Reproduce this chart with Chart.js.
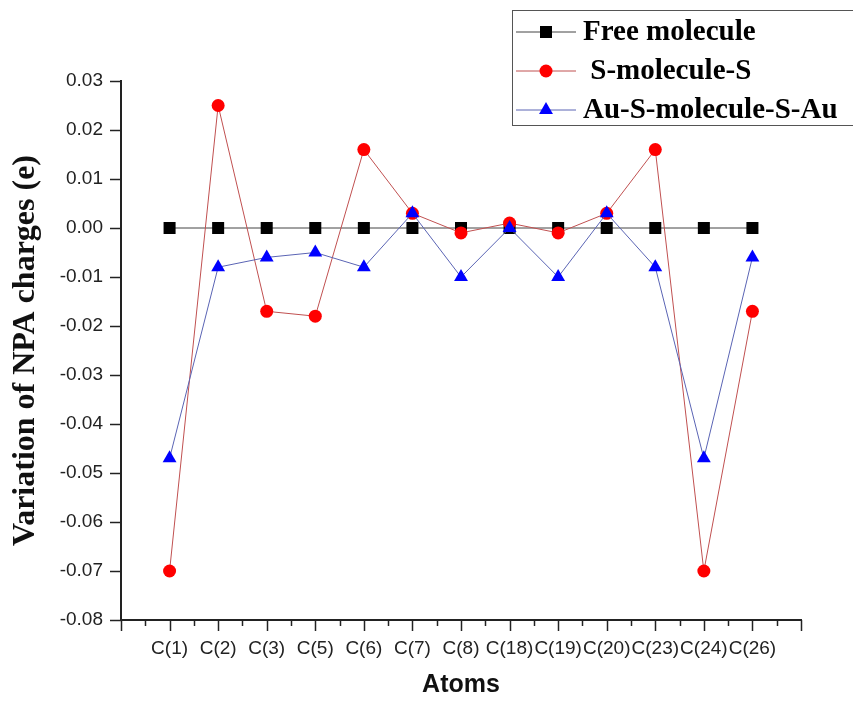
<!DOCTYPE html>
<html>
<head>
<meta charset="utf-8">
<script src="https://cdn.jsdelivr.net/npm/chart.js@4.4.1/dist/chart.umd.min.js"></script>
<style>
  body { margin: 0; background: #fff; }
  #wrap { width: 853px; height: 702px; }
</style>
</head>
<body>
<div id="wrap"><canvas id="npaChart" width="853" height="702"></canvas></div>
<script>
// Atoms along the x axis
const atoms = ['C(1)', 'C(2)', 'C(3)', 'C(5)', 'C(6)', 'C(7)', 'C(8)', 'C(18)', 'C(19)', 'C(20)', 'C(23)', 'C(24)', 'C(26)'];

// Variation of NPA charges (e)
const freeMolecule = [0, 0, 0, 0, 0, 0, 0, 0, 0, 0, 0, 0, 0];
const sMoleculeS = [-0.070, 0.025, -0.017, -0.018, 0.016, 0.003, -0.001, 0.001, -0.001, 0.003, 0.016, -0.070, -0.017];
const auSMoleculeSAu = [-0.047, -0.008, -0.006, -0.005, -0.008, 0.003, -0.010, 0.000, -0.010, 0.003, -0.008, -0.047, -0.006];

const seriesNames = ['Free molecule', ' S-molecule-S', 'Au-S-molecule-S-Au'];

// y axis range / ticks
const yMin = -0.08;
const yMax = 0.03;
const yStep = 0.005;

function toPoints(values) {
    return values.map((v, i) => ({ x: i, y: v }));
}

// Origin-style outward tick marks (long major, short minor)
const tickMarks = {
    id: 'tickMarks',
    afterDraw(chart) {
        const ctx = chart.ctx;
        const xs = chart.scales.x;
        const ys = chart.scales.y;
        const area = chart.chartArea;
        ctx.save();
        ctx.strokeStyle = '#222';
        ctx.lineWidth = 1.5;
        ys.ticks.forEach(t => {
            const y = Math.round(ys.getPixelForValue(t.value)) + 0.5;
            const len = t.label !== '' ? 11 : 5;
            ctx.beginPath();
            ctx.moveTo(area.left - len, y);
            ctx.lineTo(area.left, y);
            ctx.stroke();
        });
        xs.ticks.forEach(t => {
            const x = Math.round(xs.getPixelForValue(t.value)) + 0.5;
            const len = Number.isInteger(t.value) ? 11 : 6;
            ctx.beginPath();
            ctx.moveTo(x, area.bottom);
            ctx.lineTo(x, area.bottom + len);
            ctx.stroke();
        });
        ctx.restore();
    }
};

// Boxed legend in the top right corner
const boxLegend = {
    id: 'boxLegend',
    afterDraw(chart) {
        const ctx = chart.ctx;
        const rows = [32, 71, 110];
        ctx.save();
        ctx.strokeStyle = '#555';
        ctx.lineWidth = 1;
        ctx.strokeRect(512.5, 10.5, 400, 115);
        chart.data.datasets.forEach((ds, i) => {
            const y = rows[i];
            ctx.strokeStyle = ds.borderColor;
            ctx.lineWidth = 1;
            ctx.beginPath();
            ctx.moveTo(516, y);
            ctx.lineTo(576, y);
            ctx.stroke();
            ctx.fillStyle = ds.pointBackgroundColor;
            ctx.strokeStyle = ds.pointBackgroundColor;
            Chart.helpers.drawPoint(ctx, { pointStyle: ds.pointStyle, radius: ds.pointRadius, rotation: 0, borderWidth: 0 }, 546, y);
            ctx.fillStyle = '#000';
            ctx.font = 'bold 29px "Liberation Serif", "Times New Roman", serif';
            ctx.textBaseline = 'middle';
            ctx.textAlign = 'left';
            ctx.fillText(ds.label, 583, y + 1);
        });
        ctx.restore();
    }
};

const ctx = document.getElementById('npaChart').getContext('2d');
const npaChart = new Chart(ctx, {
    type: 'line',
    data: {
        datasets: [{
            label: seriesNames[0],
            data: toPoints(freeMolecule),
            borderColor: '#444',
            borderWidth: 1,
            pointStyle: 'rect',
            pointRadius: 8.5,
            pointBackgroundColor: '#000',
            pointBorderColor: '#000',
            pointBorderWidth: 0,
            order: 3
        }, {
            label: seriesNames[1],
            data: toPoints(sMoleculeS),
            borderColor: '#c05050',
            borderWidth: 1,
            pointStyle: 'circle',
            pointRadius: 6.5,
            pointBackgroundColor: '#ff0000',
            pointBorderColor: '#ff0000',
            pointBorderWidth: 0,
            order: 2
        }, {
            label: seriesNames[2],
            data: toPoints(auSMoleculeSAu),
            borderColor: '#5a64b4',
            borderWidth: 1,
            pointStyle: 'triangle',
            pointRadius: 8,
            pointBackgroundColor: '#0000ff',
            pointBorderColor: '#0000ff',
            pointBorderWidth: 0,
            order: 1
        }]
    },
    options: {
        responsive: false,
        animation: false,
        layout: {
            padding: { top: 81, right: 52, bottom: 0, left: 0 }
        },
        plugins: {
            legend: { display: false },
            tooltip: { enabled: false }
        },
        scales: {
            x: {
                type: 'linear',
                min: -1,
                max: atoms.length,
                grid: { display: false, drawTicks: false },
                border: { display: true, color: '#222', width: 2 },
                ticks: {
                    stepSize: 0.5,
                    autoSkip: false,
                    maxRotation: 0,
                    padding: 17,
                    color: '#222',
                    font: { family: 'Arial, "Liberation Sans", sans-serif', size: 19 },
                    callback: function(value) {
                        return Number.isInteger(value) && atoms[value] ? atoms[value] : '';
                    }
                },
                title: {
                    display: true,
                    text: 'Atoms',
                    color: '#111',
                    padding: 2,
                    font: { family: 'Arial, "Liberation Sans", sans-serif', size: 25, weight: 'bold' }
                },
                afterFit: function(scale) { scale.height = 82; }
            },
            y: {
                min: yMin,
                max: yMax,
                grid: { display: false, drawTicks: false },
                border: { display: true, color: '#222', width: 2 },
                ticks: {
                    stepSize: yStep,
                    padding: 18,
                    color: '#222',
                    font: { family: 'Arial, "Liberation Sans", sans-serif', size: 19 },
                    callback: function(value) {
                        return Math.abs(Math.round(value * 200)) % 2 === 0 ? value.toFixed(2) : '';
                    }
                },
                title: {
                    display: true,
                    text: 'Variation of NPA charges (e)',
                    color: '#111',
                    padding: { top: 7, bottom: 0 },
                    font: { family: '"Liberation Serif", "Times New Roman", serif', size: 32, weight: 'bold' }
                },
                afterFit: function(scale) { scale.width = 121; }
            }
        }
    },
    plugins: [tickMarks, boxLegend]
});
</script>
</body>
</html>
